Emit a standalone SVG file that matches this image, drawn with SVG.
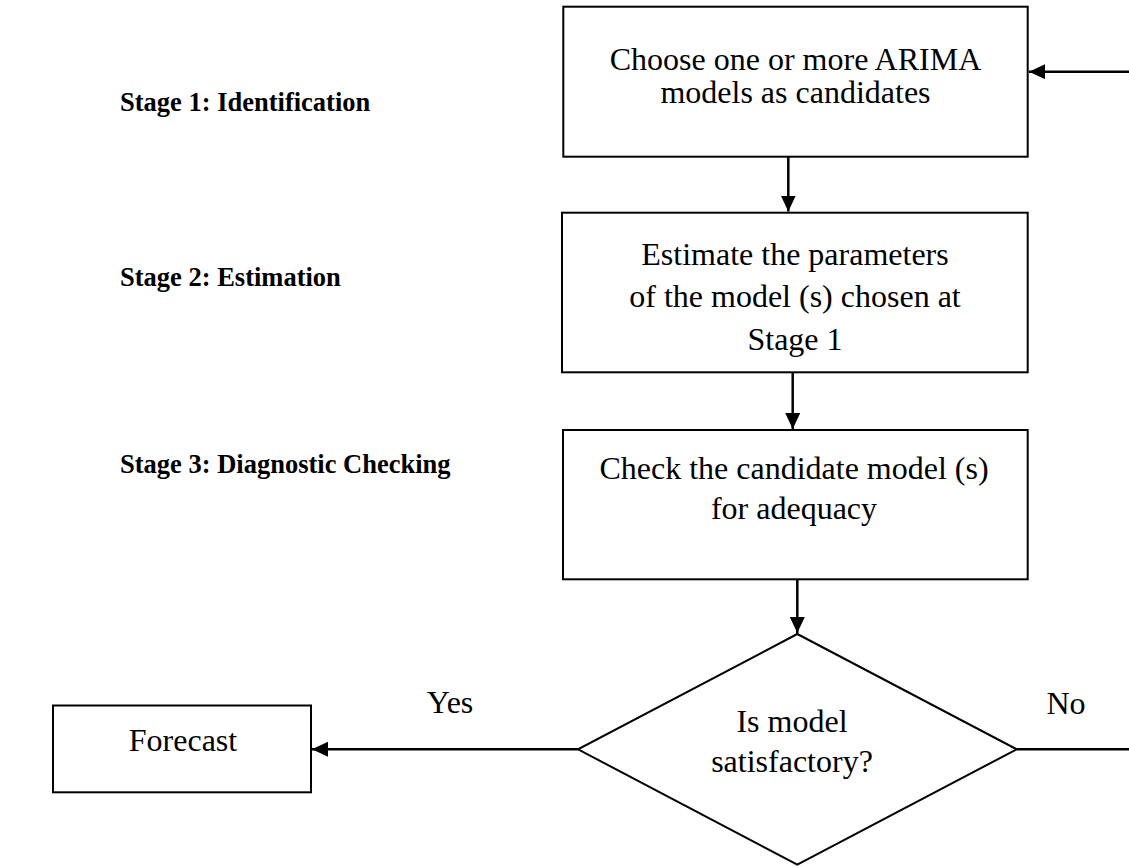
<svg xmlns="http://www.w3.org/2000/svg" width="1129" height="867" viewBox="0 0 1129 867">
<style>
.box{fill:#fff;stroke:#000;stroke-width:2}
.t{font-family:"Liberation Serif","Times New Roman",serif;font-size:32px;fill:#000;text-anchor:middle}
.st{font-family:"Liberation Serif","Times New Roman",serif;font-size:26.5px;font-weight:bold;fill:#000}
.c{stroke:#000;stroke-width:2.5;fill:none}
</style>
<defs>
<marker id="ah" markerUnits="userSpaceOnUse" markerWidth="16" markerHeight="16" refX="16" refY="7.5" orient="auto">
<path d="M0,0 L16,7.5 L0,15 z" fill="#000"/>
</marker>
</defs>
<rect width="1129" height="867" fill="#fff"/>
<g id="labels">
<text class="st" x="120" y="111">Stage 1: Identification</text>
<text class="st" x="120" y="286">Stage 2: Estimation</text>
<text class="st" x="120" y="473">Stage 3: Diagnostic Checking</text>
</g>
<g id="connectors">
<line class="c" x1="1129" y1="71.7" x2="1029" y2="71.7" marker-end="url(#ah)"/>
<line class="c" x1="788.3" y1="156.7" x2="788.3" y2="211.5" marker-end="url(#ah)"/>
<line class="c" x1="792.7" y1="372.3" x2="792.7" y2="429" marker-end="url(#ah)"/>
<line class="c" x1="797.3" y1="579.3" x2="797.3" y2="633" marker-end="url(#ah)"/>
<line class="c" x1="578" y1="749.3" x2="312" y2="749.3" marker-end="url(#ah)"/>
<line class="c" x1="1016.7" y1="749.3" x2="1129" y2="749.3"/>
<text class="t" x="450" y="713.3">Yes</text>
<text class="t" x="1066" y="714">No</text>
</g>
<g id="identify">
<rect class="box" x="563.3" y="6.7" width="464.4" height="150"/>
<text class="t" x="795.5" y="70">Choose one or more ARIMA</text>
<text class="t" x="795.5" y="103">models as candidates</text>
</g>
<g id="estimate">
<rect class="box" x="562" y="212.7" width="465.7" height="159.6"/>
<text class="t" x="795" y="265">Estimate the parameters</text>
<text class="t" x="795" y="306.7">of the model (s) chosen at</text>
<text class="t" x="795" y="350">Stage 1</text>
</g>
<g id="check">
<rect class="box" x="563" y="430" width="464.7" height="149.3"/>
<text class="t" x="794" y="479">Check the candidate model (s)</text>
<text class="t" x="794" y="519">for adequacy</text>
</g>
<g id="decision">
<polygon points="797.3,634 1016.7,749.3 797.3,864.6 578,749.3" fill="#fff" stroke="#000" stroke-width="2"/>
<text class="t" x="792" y="731.7">Is model</text>
<text class="t" x="792" y="772.3">satisfactory?</text>
</g>
<g id="forecast">
<rect class="box" x="53" y="705.5" width="258" height="86.8"/>
<text class="t" x="183" y="750.7">Forecast</text>
</g>
</svg>
